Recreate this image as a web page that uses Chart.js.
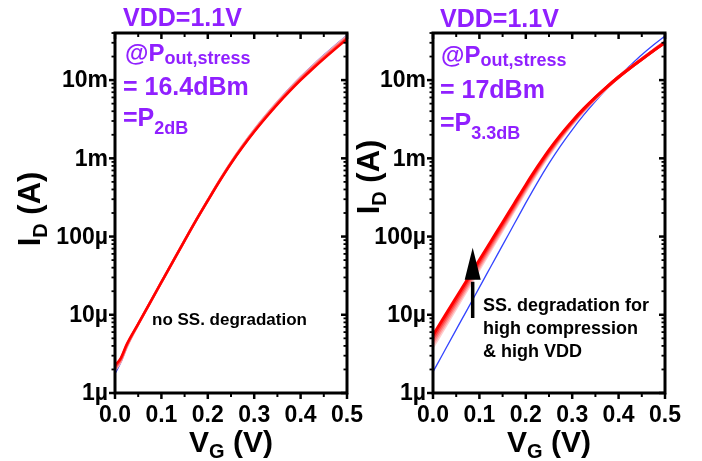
<!DOCTYPE html>
<html>
<head>
<meta charset="utf-8">
<script src="https://cdn.jsdelivr.net/npm/chart.js@4.4.0/dist/chart.umd.min.js"></script>
<style>
  html, body { margin: 0; padding: 0; background: #fff; }
  #wrap { position: relative; width: 702px; height: 461px; }
  canvas { position: absolute; left: 0; top: 0; }
</style>
</head>
<body>
<div id="wrap">
  <canvas id="left_chart" width="702" height="461"></canvas>
  <canvas id="right_chart" width="702" height="461"></canvas>
</div>
<script>
// gate voltage (V), shared by every curve
var vg = [ 0, 0.0125, 0.025, 0.05, 0.075, 0.1, 0.125, 0.15, 0.175, 0.2, 0.225, 0.25,
	0.275, 0.3, 0.325, 0.35, 0.375, 0.4, 0.425, 0.45, 0.475, 0.5 ];

// left panel: Pout,stress = 16.4dBm (P2dB), drain current in A
var left_fresh = [ 1.75e-6, 2.45e-6, 3.75e-6, 7.5e-6, 14.0e-6, 26.0e-6, 48.3e-6, 88.9e-6, 164e-6, 295e-6, 524e-6, 900e-6,
	1.476e-3, 2.34e-3, 3.58e-3, 5.33e-3, 7.76e-3, 11.04e-3, 15.3e-3, 20.9e-3, 28.2e-3, 37.5e-3 ];
var left_stress_1 = [ 2.25e-6, 2.8e-6, 4.15e-6, 7.64e-6, 14.1e-6, 26.1e-6, 48.3e-6, 88.9e-6, 162e-6, 288e-6, 506e-6, 859e-6,
	1.393e-3, 2.18e-3, 3.30e-3, 4.89e-3, 7.06e-3, 9.98e-3, 13.77e-3, 18.7e-3, 25.1e-3, 33.4e-3 ];
var left_stress_2 = [ 2.14e-6, 2.71e-6, 4.05e-6, 7.6e-6, 14.1e-6, 26.1e-6, 48.3e-6, 88.9e-6, 162e-6, 289e-6, 510e-6, 869e-6,
	1.413e-3, 2.22e-3, 3.37e-3, 4.99e-3, 7.23e-3, 10.23e-3, 14.14e-3, 19.2e-3, 25.85e-3, 34.4e-3 ];
var left_stress_3 = [ 2.04e-6, 2.62e-6, 3.94e-6, 7.57e-6, 14.1e-6, 26.1e-6, 48.3e-6, 88.9e-6, 163e-6, 291e-6, 515e-6, 879e-6,
	1.434e-3, 2.26e-3, 3.44e-3, 5.11e-3, 7.41e-3, 10.5e-3, 14.5e-3, 19.8e-3, 26.6e-3, 35.4e-3 ];
var left_stress_4 = [ 1.95e-6, 2.54e-6, 3.85e-6, 7.53e-6, 14.0e-6, 26.0e-6, 48.3e-6, 88.9e-6, 163e-6, 293e-6, 519e-6, 889e-6,
	1.455e-3, 2.30e-3, 3.51e-3, 5.22e-3, 7.58e-3, 10.77e-3, 14.9e-3, 20.3e-3, 27.4e-3, 36.4e-3 ];

// right panel: Pout,stress = 17dBm (P3.3dB), drain current in A
var right_fresh = [ 1.86e-6, 2.54e-6, 3.47e-6, 6.46e-6, 12.0e-6, 22.4e-6, 41.7e-6, 77.6e-6, 144.5e-6, 269e-6, 490e-6, 861e-6,
	1.445e-3, 2.317e-3, 3.589e-3, 5.37e-3, 7.80e-3, 11.07e-3, 15.38e-3, 21.09e-3, 28.1e-3, 36.6e-3 ];
var right_stress_1 = [ 5.5e-6, 7.24e-6, 9.55e-6, 16.6e-6, 28.8e-6, 50.1e-6, 87.1e-6, 151e-6, 263e-6, 457e-6, 776e-6, 1.274e-3,
	1.995e-3, 2.985e-3, 4.315e-3, 6.03e-3, 8.22e-3, 10.96e-3, 14.29e-3, 18.4e-3, 23.7e-3, 30.2e-3 ];
var right_stress_2 = [ 5.04e-6, 6.66e-6, 8.80e-6, 15.37e-6, 26.9e-6, 46.9e-6, 81.9e-6, 143.1e-6, 250e-6, 436.8e-6, 745.6e-6, 1.230e-3,
	1.939e-3, 2.917e-3, 4.24e-3, 5.96e-3, 8.18e-3, 10.96e-3, 14.32e-3, 18.47e-3, 23.8e-3, 30.4e-3 ];
var right_stress_3 = [ 4.62e-6, 6.12e-6, 8.11e-6, 14.24e-6, 25.0e-6, 43.9e-6, 77.1e-6, 135.4e-6, 237.7e-6, 417.5e-6, 716e-6, 1.189e-3,
	1.884e-3, 2.851e-3, 4.169e-3, 5.888e-3, 8.128e-3, 10.96e-3, 14.34e-3, 18.53e-3, 23.93e-3, 30.55e-3 ];
var right_stress_4 = [ 4.24e-6, 5.63e-6, 7.47e-6, 13.19e-6, 23.3e-6, 41.1e-6, 72.5e-6, 128e-6, 226e-6, 399e-6, 688e-6, 1.148e-3,
	1.830e-3, 2.786e-3, 4.098e-3, 5.821e-3, 8.08e-3, 10.96e-3, 14.37e-3, 18.6e-3, 24.0e-3, 30.7e-3 ];
var right_stress_5 = [ 3.89e-6, 5.18e-6, 6.89e-6, 12.2e-6, 21.7e-6, 38.5e-6, 68.2e-6, 121e-6, 215e-6, 381e-6, 661e-6, 1.109e-3,
	1.778e-3, 2.723e-3, 4.027e-3, 5.754e-3, 8.035e-3, 10.96e-3, 14.39e-3, 18.66e-3, 24.15e-3, 30.9e-3 ];

// axes
var x_ticks = [ 0, 0.1, 0.2, 0.3, 0.4, 0.5 ];
var x_tick_labels = [ '0.0', '0.1', '0.2', '0.3', '0.4', '0.5' ];
var x_minor = [ 0.05, 0.15, 0.25, 0.35, 0.45 ];
var y_ticks = [ 1e-6, 1e-5, 1e-4, 1e-3, 1e-2 ];
var y_tick_labels = [ '1µ', '10µ', '100µ', '1m', '10m' ];

var FONT = '"Liberation Sans", Arial, sans-serif';
var PURPLE = '#9020ff';

function points( ys ) {
	return vg.map( function( v, i ) { return { x: v, y: ys[ i ] }; } );
}

function curve( ys, color, width ) {
	return {
		data: points( ys ),
		borderColor: color,
		borderWidth: width,
		pointRadius: 0,
		cubicInterpolationMode: 'monotone',
		fill: false
	};
}

// draws a run of text pieces [ text, size, dy ] starting at x (or centred)
function rich( ctx, parts, x, y, centre ) {
	var total = 0;
	parts.forEach( function( p ) {
		ctx.font = 'bold ' + p[ 1 ] + 'px ' + FONT;
		total += ctx.measureText( p[ 0 ] ).width;
	} );
	var cx = centre ? x - total / 2 : x;
	ctx.textBaseline = 'alphabetic';
	ctx.textAlign = 'left';
	parts.forEach( function( p ) {
		ctx.font = 'bold ' + p[ 1 ] + 'px ' + FONT;
		ctx.fillText( p[ 0 ], cx, y + ( p[ 2 ] || 0 ) );
		cx += ctx.measureText( p[ 0 ] ).width;
	} );
}

function seg( ctx, x1, y1, x2, y2 ) {
	ctx.beginPath();
	ctx.moveTo( x1, y1 );
	ctx.lineTo( x2, y2 );
	ctx.stroke();
}

function frame( title_x, title_y, extra ) {
	return {
		id: 'frame',
		afterDraw: function( chart ) {
			var ctx = chart.ctx, a = chart.chartArea;
			var xs = chart.scales.x, ys = chart.scales.y;
			ctx.save();
			ctx.strokeStyle = '#000';
			ctx.fillStyle = '#000';
			ctx.lineCap = 'butt';

			// x ticks: outward at bottom, inward at top
			ctx.lineWidth = 2.5;
			x_ticks.forEach( function( v ) {
				var px = xs.getPixelForValue( v );
				seg( ctx, px, a.bottom, px, a.bottom + 6 );
				seg( ctx, px, a.top, px, a.top + 6 );
			} );
			ctx.lineWidth = 2;
			x_minor.forEach( function( v ) {
				var px = xs.getPixelForValue( v );
				seg( ctx, px, a.bottom, px, a.bottom + 4 );
				seg( ctx, px, a.top, px, a.top + 4 );
			} );

			// y ticks: outward at left, inward at right
			ctx.lineWidth = 2.5;
			y_ticks.forEach( function( v ) {
				var py = ys.getPixelForValue( v );
				seg( ctx, a.left - 6, py, a.left, py );
				seg( ctx, a.right - 6, py, a.right, py );
			} );
			ctx.lineWidth = 1.8;
			y_ticks.forEach( function( d ) {
				for ( var k = 2; k <= 9; k++ ) {
					if ( k * d > ys.max ) break;
					var py = ys.getPixelForValue( k * d );
					seg( ctx, a.left - 3.5, py, a.left, py );
					seg( ctx, a.right - 3.5, py, a.right, py );
				}
			} );

			ctx.lineWidth = 3;
			ctx.strokeRect( a.left, a.top, a.right - a.left, a.bottom - a.top );

			// tick labels
			ctx.font = 'bold 23px ' + FONT;
			ctx.textAlign = 'right';
			ctx.textBaseline = 'middle';
			y_ticks.forEach( function( v, i ) {
				ctx.fillText( y_tick_labels[ i ], a.left - 7, ys.getPixelForValue( v ) + 1 );
			} );
			ctx.textAlign = 'center';
			ctx.textBaseline = 'top';
			x_ticks.forEach( function( v, i ) {
				ctx.fillText( x_tick_labels[ i ], xs.getPixelForValue( v ), a.bottom + 11 );
			} );

			// axis titles
			rich( ctx, [ [ 'V', 30 ], [ 'G', 20, 6 ], [ ' (V)', 30 ] ], ( a.left + a.right ) / 2, 452, true );
			ctx.save();
			ctx.translate( title_x, title_y );
			ctx.rotate( -Math.PI / 2 );
			rich( ctx, [ [ 'I', 31 ], [ 'D', 20, 7 ], [ ' (A)', 31 ] ], 0, 0, true );
			ctx.restore();

			extra( ctx, xs, ys );
			ctx.restore();
		}
	};
}

function make_chart( id, series, colors, widths, pad_left, pad_right, plugin ) {
	var datasets = series.map( function( s, i ) { return curve( s, colors[ i ], widths[ i ] ); } );
	return new Chart( document.getElementById( id ), {
		type: 'line',
		data: { datasets: datasets },
		options: {
			responsive: false,
			animation: false,
			layout: { padding: { left: pad_left, right: pad_right, top: 33, bottom: 68 } },
			scales: {
				x: { type: 'linear', min: 0, max: 0.5, display: false },
				y: { type: 'logarithmic', min: 1e-6, max: 0.04, display: false }
			},
			plugins: { legend: { display: false }, tooltip: { enabled: false } }
		},
		plugins: [ plugin ]
	} );
}

// first dataset is drawn on top
make_chart( 'left_chart',
	[ left_stress_1, left_stress_2, left_stress_3, left_stress_4, left_fresh ],
	[ '#ff0000', '#ff4a4a', '#ff8080', '#ffb4b4', '#3344ff' ],
	[ 2.5, 2.5, 2.5, 2.5, 1.3 ],
	115, 355,
	frame( 40, 209, function( ctx, xs, ys ) {
		ctx.fillStyle = PURPLE;
		rich( ctx, [ [ 'VDD=1.1V', 25 ] ], 123, 26 );
		rich( ctx, [ [ '@P', 24 ], [ 'out,stress', 18, 3 ] ], 125, 61 );
		rich( ctx, [ [ '= 16.4dBm', 25 ] ], 123, 95 );
		rich( ctx, [ [ '=P', 25 ], [ '2dB', 18, 8 ] ], 123, 126 );
		ctx.fillStyle = '#000';
		rich( ctx, [ [ 'no SS. degradation', 17 ] ], 152, 325 );
	} ) );

make_chart( 'right_chart',
	[ right_stress_1, right_stress_2, right_stress_3, right_stress_4, right_stress_5, right_fresh ],
	[ '#ff0000', '#ff3c3c', '#ff7070', '#ffa0a0', '#ffcccc', '#3344ff' ],
	[ 3, 3, 3, 3, 3, 1.3 ],
	433, 37,
	frame( 379, 177, function( ctx, xs, ys ) {
		ctx.fillStyle = PURPLE;
		rich( ctx, [ [ 'VDD=1.1V', 25 ] ], 440, 27 );
		rich( ctx, [ [ '@P', 24 ], [ 'out,stress', 18, 3 ] ], 441, 63 );
		rich( ctx, [ [ '= 17dBm', 25 ] ], 440, 98 );
		rich( ctx, [ [ '=P', 25 ], [ '3.3dB', 18, 8 ] ], 440, 131 );

		// arrow, placed in data units
		ctx.fillStyle = '#000';
		ctx.strokeStyle = '#000';
		var ax = xs.getPixelForValue( 0.0855 );
		var y0 = ys.getPixelForValue( 9.1e-6 );
		var yb = ys.getPixelForValue( 28e-6 );
		var yt = ys.getPixelForValue( 72e-6 );
		ctx.lineWidth = 3.5;
		seg( ctx, ax, y0, ax, yb + 2 );
		ctx.beginPath();
		ctx.moveTo( ax, yt );
		ctx.lineTo( ax - 8, yb );
		ctx.lineTo( ax + 8, yb );
		ctx.closePath();
		ctx.fill();

		rich( ctx, [ [ 'SS. degradation for', 18 ] ], 483, 311 );
		rich( ctx, [ [ 'high compression', 18 ] ], 483, 334 );
		rich( ctx, [ [ '& high VDD', 18 ] ], 483, 357 );
	} ) );
</script>
</body>
</html>
